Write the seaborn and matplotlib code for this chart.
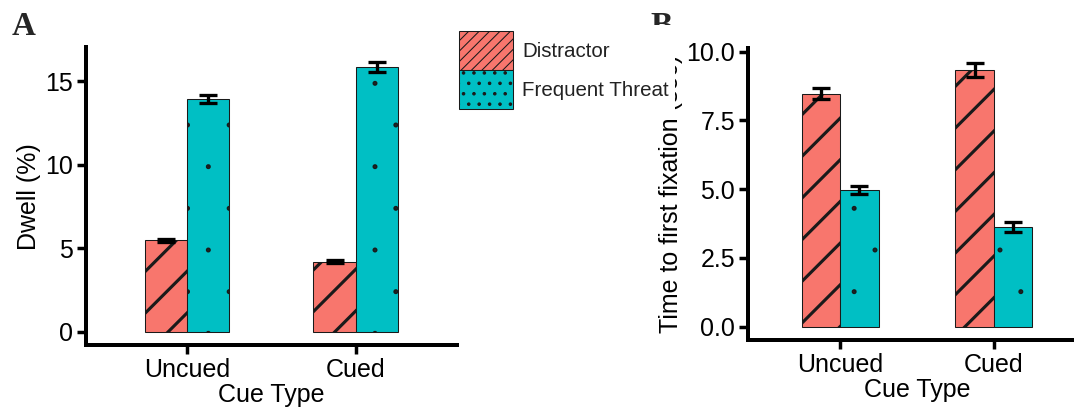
import numpy as np
import pandas as pd
import matplotlib
matplotlib.use("Agg")
import matplotlib.pyplot as plt
import matplotlib.hatch as mhatch
from matplotlib.patches import Patch
import seaborn as sns

# ---------------- data ----------------
cue_types = ["Uncued", "Cued"]
aoi_types = ["Distractor", "Frequent Threat"]

dwell_distractor = [5.47, 4.19]
dwell_threat = [13.90, 15.82]
dwell_err_distractor = [0.09, 0.09]
dwell_err_threat = [0.24, 0.30]

ttff_distractor = [8.47, 9.33]
ttff_threat = [4.97, 3.62]
ttff_err_distractor = [0.21, 0.27]
ttff_err_threat = [0.14, 0.19]

dwell_ticks = [0, 5, 10, 15]
ttff_ticks = [0.0, 2.5, 5.0, 7.5, 10.0]

colors = ["#F8766D", "#00BFC4"]
hatches = ["//", "."]
legend_hatches = ["////////", "...."]


# smaller dots for the sparse bar pattern
class _Dots(mhatch.SmallFilledCircles):
    def __init__(self, hatch, density):
        self.size = 0.022 if hatch.count(".") < 3 else 0.12
        super().__init__(hatch, density)


mhatch._hatch_types[mhatch._hatch_types.index(mhatch.SmallFilledCircles)] = _Dots

sns.set_style("ticks")
plt.rcParams["font.family"] = ["Liberation Sans", "DejaVu Sans"]
plt.rcParams["hatch.linewidth"] = 0.9

DPI = 250
fig = plt.figure(figsize=(1074 / DPI, 407 / DPI), dpi=DPI)
fig.patch.set_facecolor("white")

FS = 7.2


def make_df(dist, threat):
    rows = []
    for i, c in enumerate(cue_types):
        rows.append({"cue": c, "aoi": aoi_types[0], "val": dist[i]})
        rows.append({"cue": c, "aoi": aoi_types[1], "val": threat[i]})
    return pd.DataFrame(rows)


def panel(ax, dist, threat, edist, ethreat, ticks, ylim, ylabel, fmt):
    df = make_df(dist, threat)
    sns.barplot(data=df, x="cue", y="val", hue="aoi", order=cue_types,
                hue_order=aoi_types, palette=colors, saturation=1,
                width=0.5, errorbar=None, legend=False, ax=ax,
                edgecolor="#1a1a1a", linewidth=0.3)
    errs = [edist, ethreat]
    vals = [dist, threat]
    bar_containers = list(ax.containers)
    for k, cont in enumerate(bar_containers):
        xs = []
        for bar in cont.patches:
            bar.set_hatch(hatches[k])
            xs.append(bar.get_x() + bar.get_width() / 2)
        ax.errorbar(xs, vals[k], yerr=errs[k], fmt="none", ecolor="black",
                    elinewidth=0.95, capsize=2.45, capthick=0.95, zorder=5)
    ax.set_xlim(-0.6, 1.6)
    ax.set_ylim(*ylim)
    ax.set_yticks(ticks)
    ax.set_yticklabels([fmt(t) for t in ticks])
    ax.set_xlabel("Cue Type", fontsize=FS, labelpad=0.3, color="black")
    ax.set_ylabel(ylabel, fontsize=FS, labelpad=1.1, color="black")
    ax.tick_params(axis="both", labelsize=FS, width=1.0, length=2.5,
                   pad=1.2, colors="black")
    for s in ["top", "right"]:
        ax.spines[s].set_visible(False)
    for s in ["left", "bottom"]:
        ax.spines[s].set_linewidth(1.15)
        ax.spines[s].set_color("black")
        ax.spines[s].set_capstyle("projecting")
    ax.set_facecolor("none")


axA = fig.add_axes([86 / 1074, 1 - 345.4 / 407, (456.7 - 86) / 1074, (345.4 - 47.1) / 407])
panel(axA, dwell_distractor, dwell_threat, dwell_err_distractor, dwell_err_threat,
      dwell_ticks, (-0.82, 17.03), "Dwell (%)", lambda t: f"{t:g}")

axB = fig.add_axes([748 / 1074, 1 - 340 / 407, (1086 - 748) / 1074, (340 - 48) / 407])
panel(axB, ttff_distractor, ttff_threat, ttff_err_distractor, ttff_err_threat,
      ttff_ticks, (-0.48, 10.13), "Time to first fixation (sec)", lambda t: f"{t:.1f}")

fig.text(12 / 1074, 1 - 35 / 407, "A", fontsize=9.5, fontweight="bold",
         family="Liberation Serif", ha="left", va="baseline")
fig.text(650 / 1074, 1 - 35 / 407, "B", fontsize=9.5, fontweight="bold",
         family="Liberation Serif", ha="left", va="baseline")

handles = [Patch(facecolor=colors[i], edgecolor="#1a1a1a", hatch=legend_hatches[i],
                 linewidth=0.3) for i in range(2)]
LFS = 5.9
leg = fig.legend(handles, aoi_types, loc="upper left",
                 bbox_to_anchor=(453 / 1074, 1 - 25 / 407),
                 bbox_transform=fig.transFigure, borderaxespad=0,
                 fontsize=LFS, frameon=True, facecolor="white", edgecolor="none",
                 framealpha=1, fancybox=False, borderpad=0.29,
                 handlelength=2.65, handleheight=2.55, handletextpad=0.44,
                 labelspacing=0)
for h in leg.legend_handles:
    if hasattr(h, "set_hatch_linewidth"):
        h.set_hatch_linewidth(0.3)
for t in leg.get_texts():
    t.set_color("#222222")

fig.savefig("out.png", dpi=DPI, facecolor="white")
